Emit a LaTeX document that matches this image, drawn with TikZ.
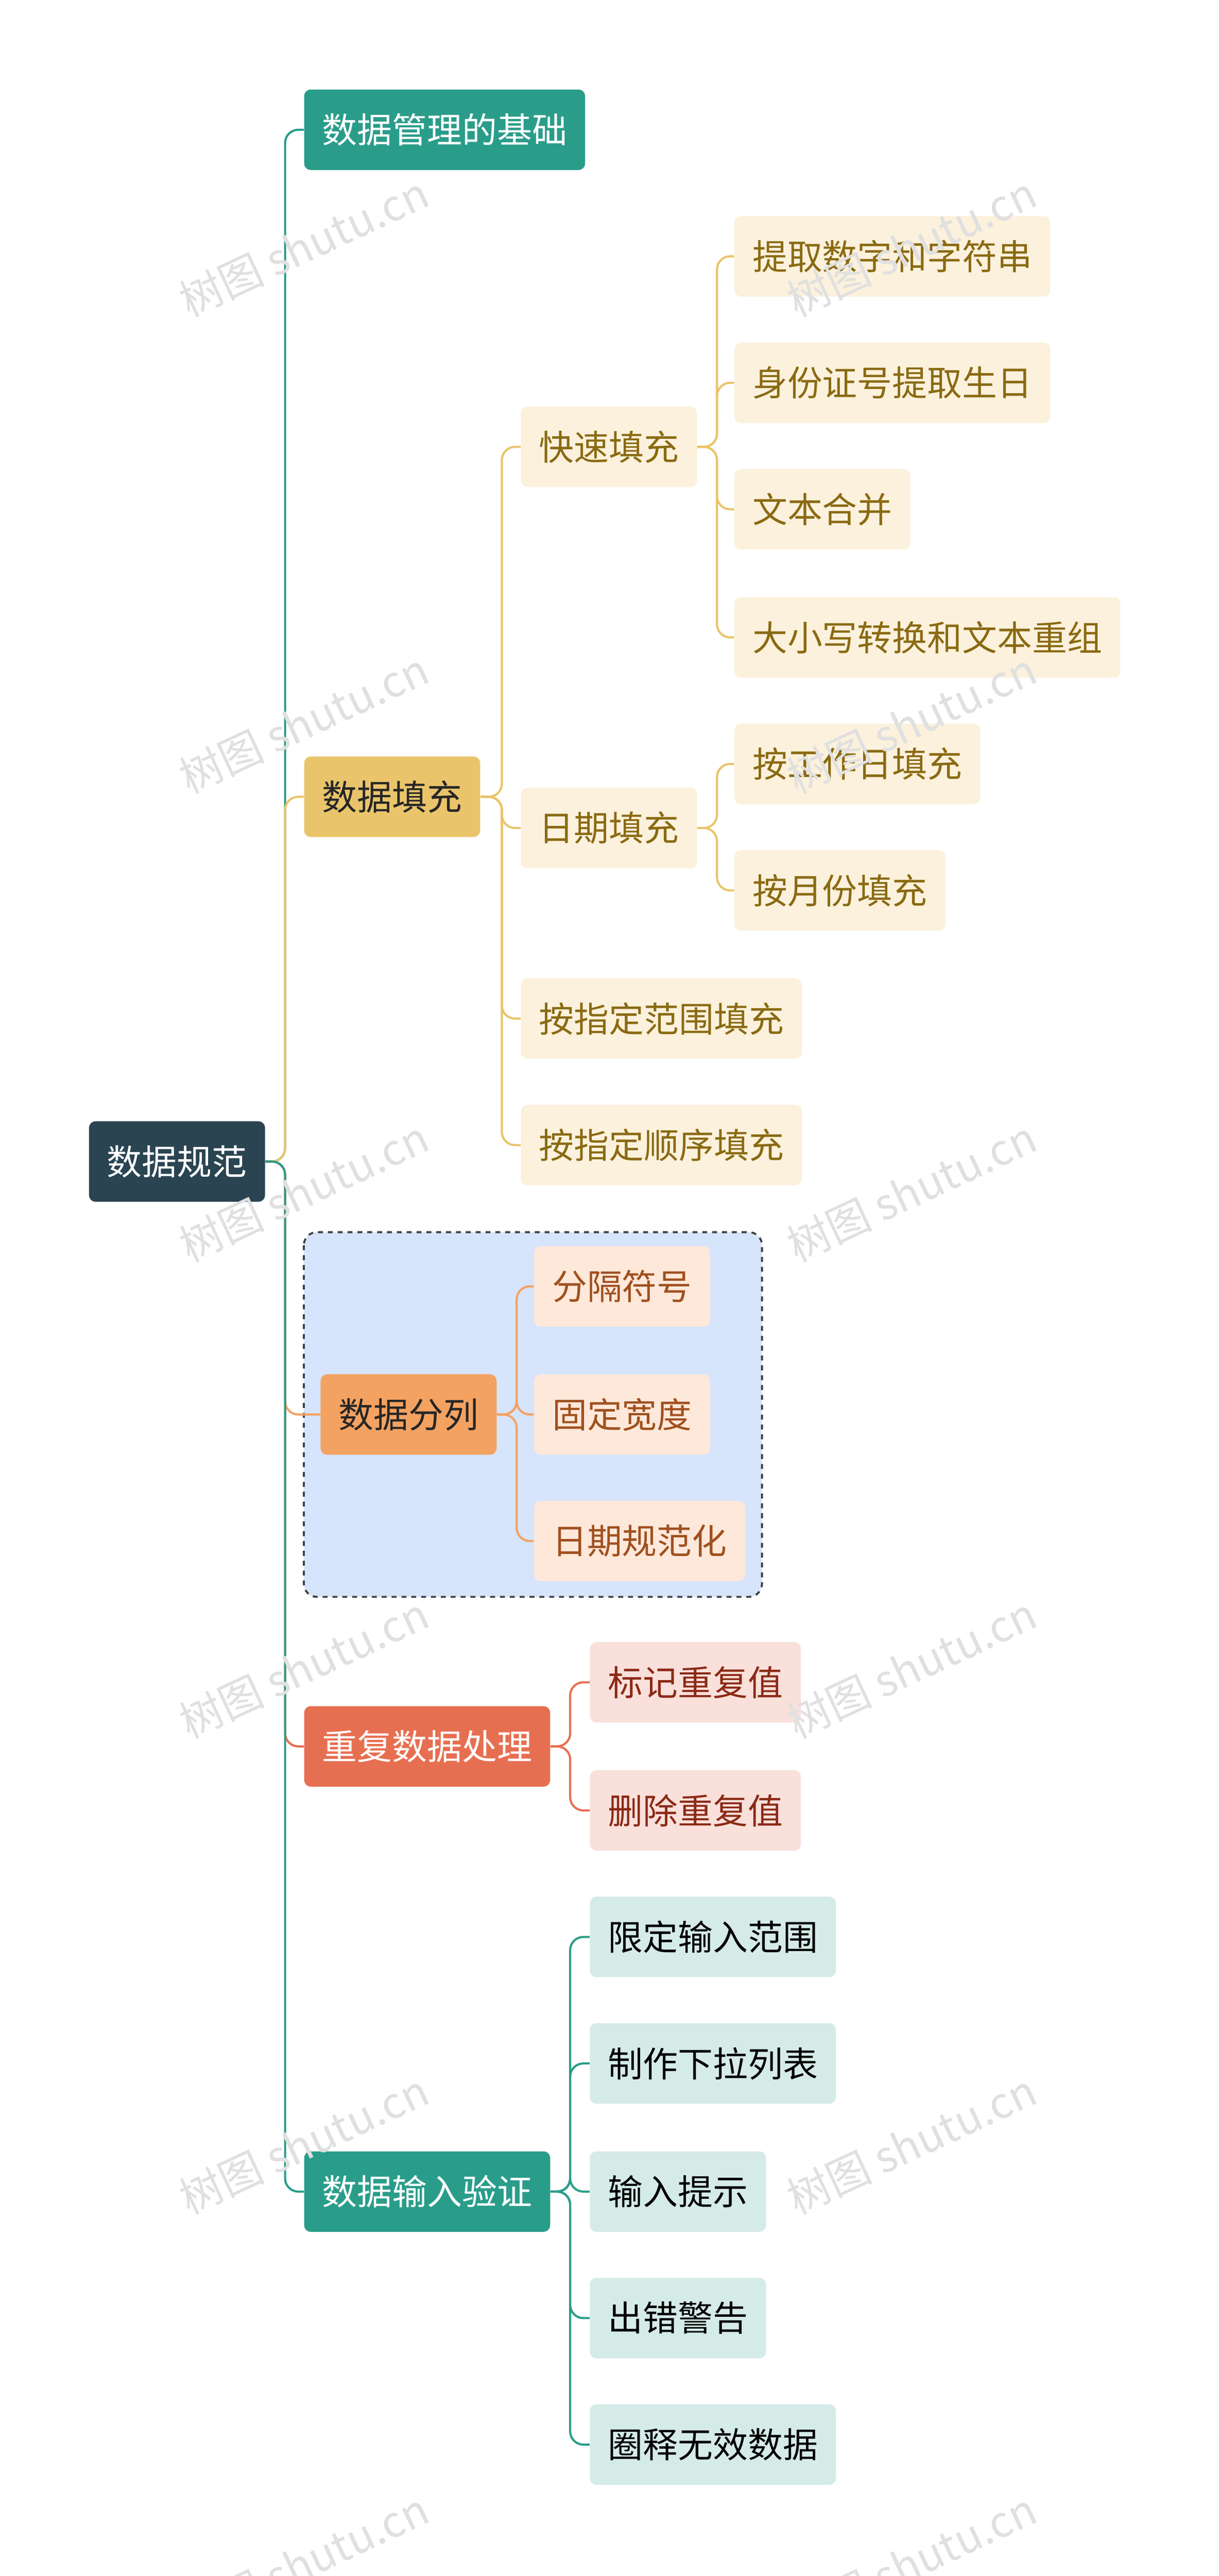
\documentclass[tikz,border=0pt]{standalone}
\usepackage{fontspec}
\setmainfont{Noto Sans CJK SC}
\begin{document}
\begin{tikzpicture}[x=1pt,y=-1pt,
 box/.style={rounded corners=4pt,minimum height=49pt,inner xsep=11pt,anchor=west,font=\fontsize{21.3}{25}\selectfont},
 tealb/.style={box,fill=teal1,text=white},
 yel/.style={box,fill=yel1,text=black!85},
 yel2/.style={box,fill=yel2,text=yeltxt},
 ora/.style={box,fill=ora1,text=black!85},
 ora2/.style={box,fill=ora2,text=oratxt},
 red/.style={box,fill=red1,text=white},
 red2/.style={box,fill=red2,text=redtxt},
 tea2/.style={box,fill=tea2,text=black},
 ln/.style={line width=1.3pt,rounded corners=8pt},
 wm/.style={text=black!12,rotate=25,font=\fontsize{26}{30}\selectfont}]
\definecolor{teal1}{HTML}{2A9D8A}
\definecolor{yel1}{HTML}{E9C46A}
\definecolor{yel2}{HTML}{FBF1DC}
\definecolor{yeltxt}{HTML}{8A6A12}
\definecolor{ora1}{HTML}{F4A261}
\definecolor{ora2}{HTML}{FDE8DA}
\definecolor{oratxt}{HTML}{A0501E}
\definecolor{red1}{HTML}{E76F51}
\definecolor{red2}{HTML}{F9E0DB}
\definecolor{redtxt}{HTML}{8B2A16}
\definecolor{tea2}{HTML}{D5EBE7}
\definecolor{rootc}{HTML}{2A4451}
\definecolor{grp}{HTML}{D6E4FC}
\useasboundingbox[fill=white] (0,0) rectangle (742,1568);
\draw[dashed,line width=1.2pt,fill=grp,rounded corners=8pt,draw=black!75] (185,750) rectangle (464,972);
\node[box,fill=rootc,text=white] (root) at (54,707) {数据规范};
\node[tealb] (a) at (185,79) {数据管理的基础};
\node[yel] (b) at (185,485) {数据填充};
\node[ora] (c) at (195,861) {数据分列};
\node[red] (d) at (185,1063) {重复数据处理};
\node[tealb] (e) at (185,1334) {数据输入验证};
\node[yel2] (b1) at (317,272) {快速填充};
\node[yel2] (b2) at (317,504) {日期填充};
\node[yel2] (b3) at (317,620) {按指定范围填充};
\node[yel2] (b4) at (317,697) {按指定顺序填充};
\node[yel2] (b11) at (447,156) {提取数字和字符串};
\node[yel2] (b12) at (447,233) {身份证号提取生日};
\node[yel2] (b13) at (447,310) {文本合并};
\node[yel2] (b14) at (447,388) {大小写转换和文本重组};
\node[yel2] (b21) at (447,465) {按工作日填充};
\node[yel2] (b22) at (447,542) {按月份填充};
\node[ora2] (c1) at (325,783) {分隔符号};
\node[ora2] (c2) at (325,861) {固定宽度};
\node[ora2] (c3) at (325,938) {日期规范化};
\node[red2] (d1) at (359,1024) {标记重复值};
\node[red2] (d2) at (359,1102) {删除重复值};
\node[tea2] (e1) at (359,1179) {限定输入范围};
\node[tea2] (e2) at (359,1256) {制作下拉列表};
\node[tea2] (e3) at (359,1334) {输入提示};
\node[tea2] (e4) at (359,1411) {出错警告};
\node[tea2] (e5) at (359,1488) {圈释无效数据};
\draw[ln,teal1] (root.east) -- ++(12,0) |- (a.west);
\draw[ln,yel1] (root.east) -- ++(12,0) |- (b.west);
\draw[ln,ora1] (root.east) -- ++(12,0) |- (c.west);
\draw[ln,red1] (root.east) -- ++(12,0) |- (d.west);
\draw[ln,teal1] (root.east) -- ++(12,0) |- (e.west);
\foreach \t in {b1,b2,b3,b4} \draw[ln,yel1] (b.east) -- ++(13,0) |- (\t.west);
\foreach \t in {b11,b12,b13,b14} \draw[ln,yel1] (b1.east) -- ++(12,0) |- (\t.west);
\foreach \t in {b21,b22} \draw[ln,yel1] (b2.east) -- ++(12,0) |- (\t.west);
\foreach \t in {c1,c2,c3} \draw[ln,ora1] (c.east) -- ++(12,0) |- (\t.west);
\foreach \t in {d1,d2} \draw[ln,red1] (d.east) -- ++(12,0) |- (\t.west);
\foreach \t in {e1,e2,e3,e4,e5} \draw[ln,teal1] (e.east) -- ++(12,0) |- (\t.west);
\foreach \y in {150,440,725,1015,1305,1560} {
  \node[wm] at (185,\y) {树图 shutu.cn};
  \node[wm] at (555,\y) {树图 shutu.cn};}
\end{tikzpicture}
\end{document}
